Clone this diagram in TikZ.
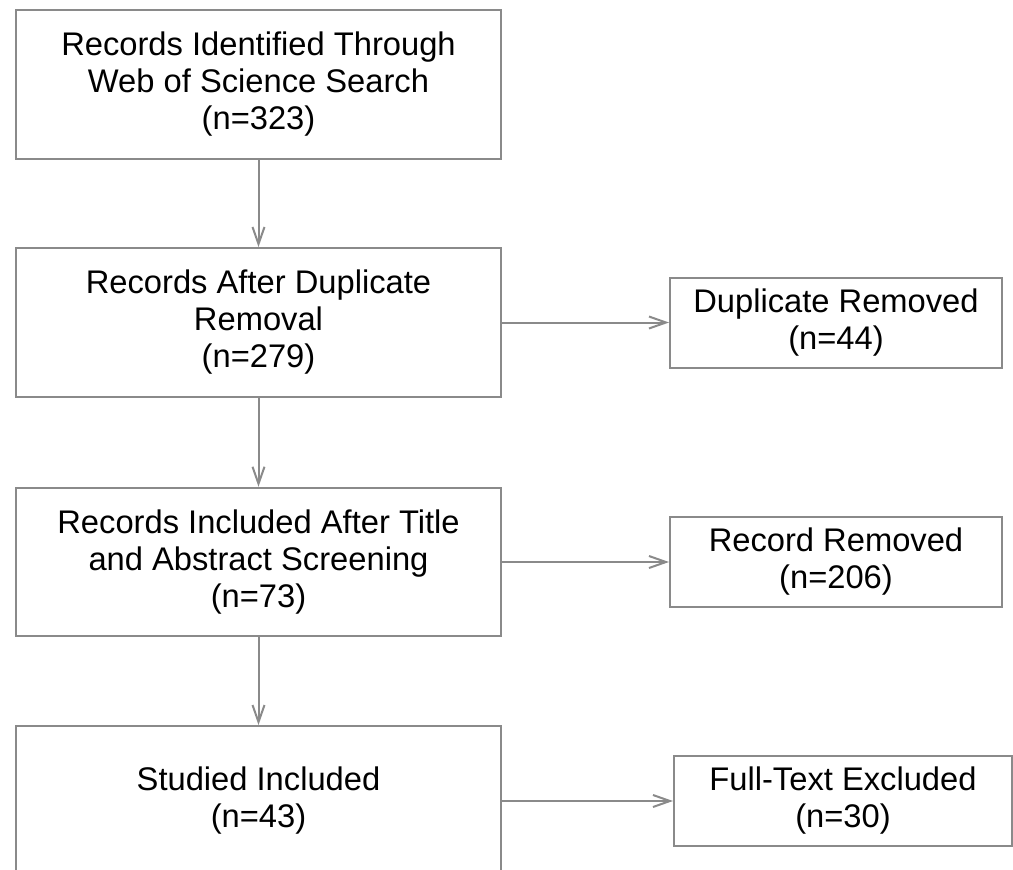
\documentclass[tikz,border=0pt]{standalone}
\usepackage{fontspec}
\setmainfont{Liberation Sans}
\usetikzlibrary{arrows.meta}
\definecolor{linegray}{HTML}{8A8A8A}
\tikzset{
  box/.style={draw=linegray, line width=2pt, rectangle, align=center, inner sep=0pt,
    font=\fontsize{32.7pt}{37pt}\selectfont, text=black},
  flow/.style={draw=linegray, line width=2pt, -{Straight Barb[length=17pt,width=12pt,line width=2pt]}}
}
\begin{document}
\begin{tikzpicture}[x=1pt,y=-1pt]
\useasboundingbox (0,0) rectangle (1013,870);
\node[box, minimum width=485pt, minimum height=148.5pt] (b1) at (258.5,84.3)
  {Records Identified Through\\Web of Science Search\\(n=323)};
\node[box, minimum width=485pt, minimum height=149pt] (b2) at (258.5,322.5)
  {Records After Duplicate\\Removal\\(n=279)};
\node[box, minimum width=485pt, minimum height=148.5pt] (b3) at (258.5,562)
  {Records Included After Title\\and Abstract Screening\\(n=73)};
\node[box, minimum width=485pt, minimum height=150pt] (b4) at (258.5,801)
  {Studied Included\\(n=43)};
\node[box, minimum width=332pt, minimum height=90pt] (d1) at (836,322.5)
  {Duplicate Removed\\(n=44)};
\node[box, minimum width=332pt, minimum height=90pt] (d2) at (836,562)
  {Record Removed\\(n=206)};
\node[box, minimum width=338pt, minimum height=89.5pt] (d3) at (843,801)
  {Full-Text Excluded\\(n=30)};
\draw[flow] (b1) -- (b2);
\draw[flow] (b2) -- (b3);
\draw[flow] (b3) -- (b4);
\draw[flow] (b2) -- (d1);
\draw[flow] (b3) -- (d2);
\draw[flow] (b4) -- (d3);
\end{tikzpicture}
\end{document}
